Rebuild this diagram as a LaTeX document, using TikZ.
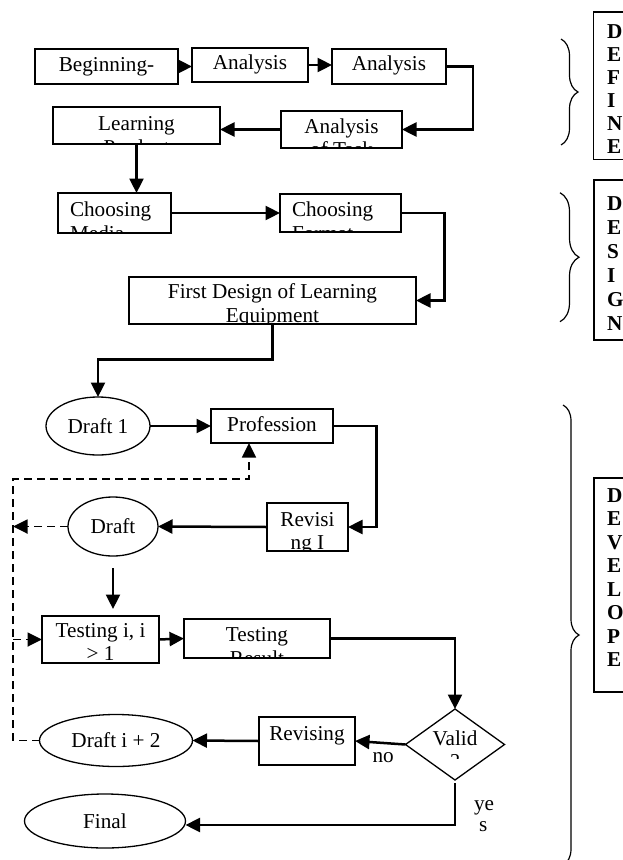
\documentclass[tikz,border=0pt]{standalone}
\usepackage{fontspec}
\setmainfont{Liberation Serif}
\usetikzlibrary{arrows.meta,calc,shapes.geometric,decorations.pathreplacing}

% single-line box: name, cx, cy, w, h, baseline offset, text
\newcommand\myonebox[7]{%
  \node[box, minimum width=#4pt, minimum height=#5pt] (#1) at (#2,#3) {};
  \begin{scope}
    \clip ($(#1.north west)+(0.8,0.8)$) rectangle ($(#1.south east)+(-0.8,-0.8)$);
    \node[txt, anchor=base] (#1-a) at ($(#1.north)+(0,#6)$) {#7};
  \end{scope}}
% two-line centred box (second line clipped)
\newcommand\mytwobox[8]{%
  \node[box, minimum width=#4pt, minimum height=#5pt] (#1) at (#2,#3) {};
  \begin{scope}
    \clip ($(#1.north west)+(0.8,0.8)$) rectangle ($(#1.south east)+(-0.8,-0.8)$);
    \node[txt, anchor=base] (#1-a) at ($(#1.north)+(0,#6)$) {#7};
    \node[txt, anchor=base] (#1-b) at ($(#1.north)+(0,#6+23.5)$) {#8};
  \end{scope}}
% two-line left-aligned box
\newcommand\myleftbox[8]{%
  \node[box, minimum width=#4pt, minimum height=#5pt] (#1) at (#2,#3) {};
  \begin{scope}
    \clip ($(#1.north west)+(0.8,0.8)$) rectangle ($(#1.south east)+(-0.8,-0.8)$);
    \node[txt, anchor=base west] (#1-a) at ($(#1.north west)+(12,#6)$) {#7};
    \node[txt, anchor=base west] (#1-b) at ($(#1.north west)+(12,#6+23.5)$) {#8};
  \end{scope}}

\begin{document}
\begin{tikzpicture}[x=1pt,y=-1pt,
  font=\fontsize{21.2}{23.5}\selectfont,
  box/.style={draw, rectangle, line width=1.6pt, inner sep=0pt, outer sep=0pt},
  frame/.style={draw, line width=1.6pt},
  ell/.style={draw, ellipse, line width=1.3pt, inner sep=0pt, outer sep=0pt},
  dia/.style={draw, diamond, line width=1.3pt, inner sep=0pt, outer sep=0pt},
  txt/.style={inner sep=0pt, outer sep=0pt},
  conn/.style={line width=2.5pt, -{Triangle[length=14.5pt,width=14pt]}},
  dashline/.style={line width=1.8pt, dash pattern=on 8pt off 5pt},
  dasharrow/.style={dashline, -{Triangle[length=14.5pt,width=14pt]}},
  lbl/.style={inner sep=0pt, outer sep=0pt, font=\fontsize{21.2}{23.5}\selectfont\bfseries},
  bracestyle/.style={decorate, line width=1.2pt}
]
\fill[white] (0,0) rectangle (623,860);
\useasboundingbox (0,0) rectangle (623,860);

% ---------- DEFINE ----------
\myonebox{begin}{106.5}{66.5}{143}{35}{22.7}{Beginning-}
\myonebox{an1}{250}{65}{116}{34}{21.5}{Analysis}
\myonebox{an2}{389}{66.5}{114}{35}{21.7}{Analysis}
\mytwobox{learn}{136.5}{125.5}{167}{37}{23.5}{Learning}{Product}
\mytwobox{an3}{341.5}{129.5}{121}{37}{22.3}{Analysis}{of Task}

% ---------- DESIGN ----------
\myleftbox{media}{114.5}{213}{113}{40}{23.5}{Choosing}{Media}
\myleftbox{format}{340.5}{213}{121}{38}{22.7}{Choosing}{Format}
\mytwobox{design}{272.5}{300.5}{287}{47}{21.5}{First Design of Learning}{Equipment}

% ---------- DEVELOP ----------
\node[ell, minimum width=104pt, minimum height=58pt] (d1) at (98,426) {Draft 1};
\myonebox{prof}{272}{426}{122}{34}{22.7}{Profession}
\mytwobox{rev1}{307.5}{527}{81}{48}{23}{Revisi}{ng I}
\node[ell, minimum width=90pt, minimum height=59pt] (d2) at (113,526.5) {Draft};
\mytwobox{test1}{100.5}{639.5}{117}{47}{21.3}{Testing i, i}{> 1}
\mytwobox{test2}{257}{638.5}{146}{39}{22.7}{Testing}{Result}
\node[dia, minimum width=99pt, minimum height=71pt] (valid) at (455,744.5) {};
\node[txt, anchor=base] (valid-t) at ($(valid.north)+(0,36)$) {Valid};
\begin{scope}
  \clip ($(valid.west)+(0,-20)$) rectangle ($(valid.east)+(0,13.5)$);
  \node[txt, anchor=base] (valid-q) at ($(valid.north)+(0,59)$) {?};
\end{scope}
\myonebox{rev2}{307}{741}{96}{48}{23.7}{Revising}
\node[ell, minimum width=153pt, minimum height=52pt] (d3) at (116,740.5) {Draft i + 2};
\node[ell, minimum width=161pt, minimum height=54pt] (fin) at (105,821) {Final};

\node[txt, anchor=base west] (no) at (372.5,762.5) {no};
\node[txt, anchor=base west] (ye) at (474,810) {ye};
\node[txt, anchor=base west] (s) at (479,831.7) {s};

% ---------- connectors ----------
\draw[conn] (begin.east) -- (begin.east -| an1.west);
\draw[conn] (an1.east) -- (an1.east -| an2.west);
\draw[conn] (an2.east) -- ++(27,0) |- (an3.east);
\draw[conn] (an3.west) -- (an3.west -| learn.east);
\draw[conn] (learn.south) -- (learn.south |- media.north);
\draw[conn] (media.east) -- (media.east -| format.west);
\draw[conn] (format.east) -- ++(43.5,0) |- (design.east);
\draw[conn] (design.south) -- ++(0,35.3) -| (d1.north);
\draw[conn] (d1.east) -- (prof.west);
\draw[conn] (prof.east) -- ++(43.7,0) |- (rev1.east);
\draw[conn] (rev1.west) -- (d2.east);
\draw[conn] ($(d2.south)+(0,12)$) -- ($(d2.south |- test1.north)+(0,-7)$);
\draw[conn] (test1.east) -- (test2.west);
\draw[conn] (test2.east) -| (valid.north);
\draw[conn] (valid.west) -- (rev2.east);
\draw[conn] (rev2.west) -- (d3.east);
\draw[conn] ($(valid.south)+(0,3)$) |- ($(fin.east)+(0,4)$);

% dashed feedback
\coordinate (dtop) at (13,479);
\coordinate (pin) at ($(prof.south)+(-23,0)$);
\draw[dasharrow] (d2.west) -- (d2.west -| dtop);
\draw[dasharrow] (d3.west) -| (dtop) -- (dtop -| pin) -- (pin);
\draw[dasharrow] (test1.west -| dtop) -- (test1.west);

% ---------- right-hand labels ----------
\draw[frame] (623,11.7) -- (593.3,11.7) -- (593.3,159.3) -- (623,159.3);
\foreach \l [count=\i] in {D,E,F,I,N,E}
  \node[lbl, anchor=base west] (def\i) at (607,{38.3+23*(\i-1)}) {\l};
\draw[frame] (623,180) -- (594,180) -- (594,340) -- (623,340);
\foreach \l [count=\i] in {D,E,S,I,G,N}
  \node[lbl, anchor=base west] (des\i) at (607,{210+24*(\i-1)}) {\l};
\draw[frame] (623,478) -- (594,478) -- (594,692) -- (623,692);
\foreach \l [count=\i] in {D,E,V,E,L,O,P,E}
  \node[lbl, anchor=base west] (dev\i) at (607,{502+23.5*(\i-1)}) {\l};

\draw[bracestyle, decoration={brace, amplitude=17pt}] (561,39) -- (561,145);
\draw[bracestyle, decoration={brace, amplitude=19pt}] (560,192.7) -- (560,321.7);
\draw[bracestyle, decoration={brace, amplitude=16pt}] (563,405) -- (563,865);
\end{tikzpicture}
\end{document}
